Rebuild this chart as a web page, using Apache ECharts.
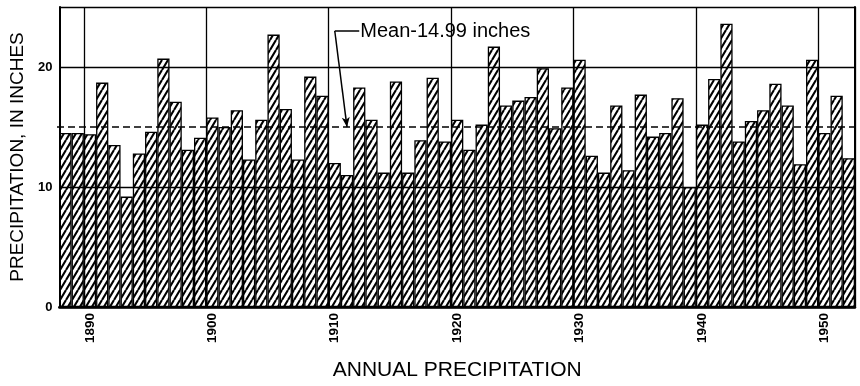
<!DOCTYPE html>
<html>
<head>
<meta charset="utf-8">
<script src="https://cdn.jsdelivr.net/npm/echarts@6/dist/echarts.min.js"></script>
<style>
html,body{margin:0;padding:0;background:#fff;}
#chart{width:860px;height:386px;}
</style>
</head>
<body>
<div id="chart"></div>
<script>
const years = ['1888','1889','1890','1891','1892','1893','1894','1895','1896','1897','1898','1899',
  '1900','1901','1902','1903','1904','1905','1906','1907','1908','1909',
  '1910','1911','1912','1913','1914','1915','1916','1917','1918','1919',
  '1920','1921','1922','1923','1924','1925','1926','1927','1928','1929',
  '1930','1931','1932','1933','1934','1935','1936','1937','1938','1939',
  '1940','1941','1942','1943','1944','1945','1946','1947','1948','1949',
  '1950','1951','1952'];
const precipitation = [14.5,14.5,14.4,18.7,13.5,9.2,12.8,14.6,20.7,17.1,13.1,14.1,
  15.8,15.0,16.4,12.3,15.6,22.7,16.5,12.3,19.2,17.6,
  12.0,11.0,18.3,15.6,11.2,18.8,11.2,13.9,19.1,13.8,
  15.6,13.1,15.2,21.7,16.8,17.2,17.5,19.9,14.9,18.3,
  20.6,12.6,11.2,16.8,11.4,17.7,14.2,14.5,17.4,10.0,
  15.2,19.0,23.6,13.8,15.5,16.4,18.6,16.8,11.9,20.6,
  14.5,17.6,12.4];
const meanValue = 14.99;
const meanLabel = 'Mean-14.99 inches';
const yTicks = [0, 10, 20];
const xTitle = 'ANNUAL PRECIPITATION';
const yTitle = 'PRECIPITATION, IN INCHES';

// hatch pattern
const pc = document.createElement('canvas');
pc.width = 6; pc.height = 10;
const ctx = pc.getContext('2d');
ctx.fillStyle = '#fff';
ctx.fillRect(0, 0, 6, 10);
ctx.strokeStyle = '#000';
ctx.lineWidth = 2.1;
ctx.beginPath();
ctx.moveTo(-6, 10); ctx.lineTo(0, 0);
ctx.moveTo(0, 10); ctx.lineTo(6, 0);
ctx.moveTo(6, 10); ctx.lineTo(12, 0);
ctx.stroke();

const FONT = '"Liberation Sans", Arial, sans-serif';
const chart = echarts.init(document.getElementById('chart'), null, {renderer: 'canvas'});
const decade = (i, v) => (+v) % 10 === 0;

chart.setOption({
  animation: false,
  backgroundColor: '#fff',
  grid: {left: 57, right: 5, top: 7, bottom: 71, containLabel: false},
  xAxis: [{
    type: 'category',
    data: years,
    boundaryGap: true,
    z: 10,
    axisLine: {show: true, lineStyle: {color: '#000', width: 2.5}},
    axisTick: {show: false},
    axisLabel: {
      interval: decade, rotate: 90, margin: 6,
      fontFamily: FONT, fontWeight: 'bold', fontSize: 13.5, color: '#000'
    },
    splitLine: {show: true, interval: decade, lineStyle: {color: '#000', width: 1.3}},
    name: xTitle,
    nameLocation: 'middle',
    nameGap: 53,
    nameTextStyle: {fontFamily: FONT, fontSize: 21, color: '#000'}
  }, {
    type: 'category',
    data: years,
    position: 'top',
    z: 10,
    axisLine: {show: true, lineStyle: {color: '#000', width: 2}},
    axisTick: {show: false},
    axisLabel: {show: false},
    splitLine: {show: false}
  }],
  yAxis: [{
    type: 'value',
    min: 0, max: 25, interval: 10,
    z: 10,
    axisLine: {show: true, lineStyle: {color: '#000', width: 2}},
    axisTick: {show: false},
    axisLabel: {
      showMaxLabel: false, margin: 7,
      fontFamily: FONT, fontWeight: 'bold', fontSize: 13, color: '#000',
      formatter: v => yTicks.includes(v) ? String(v) : ''
    },
    splitLine: {show: true, lineStyle: {color: '#000', width: 1.3}},
    name: yTitle,
    nameLocation: 'middle',
    nameGap: 30,
    nameTextStyle: {fontFamily: FONT, fontSize: 19, color: '#000'}
  }, {
    type: 'value',
    min: 0, max: 25, interval: 10,
    position: 'right',
    z: 10,
    axisLine: {show: true, lineStyle: {color: '#000', width: 2}},
    axisTick: {show: false},
    axisLabel: {show: false},
    splitLine: {show: false}
  }],
  series: [{
    type: 'bar',
    data: precipitation,
    barCategoryGap: '0%',
    itemStyle: {
      color: {image: pc, repeat: 'repeat'},
      borderColor: '#000',
      borderWidth: 1.3
    },
    markLine: {
      silent: true,
      symbol: 'none',
      animation: false,
      lineStyle: {color: '#000', width: 1.5, type: 'solid'},
      label: {show: false},
      data: [
        [{yAxis: meanValue, x: 57, lineStyle: {type: [7, 4], width: 1.6}}, {yAxis: meanValue, x: 855}],
        [{coord: ['1910', 23.0]},
         {coord: ['1912', 23.0],
          label: {show: true, position: 'end', distance: 1, formatter: meanLabel,
                  fontFamily: FONT, fontSize: 20, color: '#000'}}],
        [{coord: ['1910', 23.0]},
         {coord: ['1911', meanValue], symbol: 'arrow', symbolSize: [6, 10]}]
      ]
    }
  }]
});
</script>
</body>
</html>
